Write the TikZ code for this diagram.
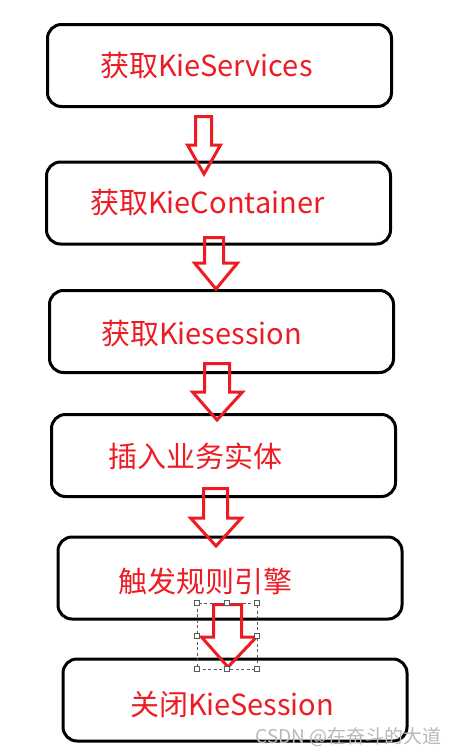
\documentclass[tikz,border=0pt]{standalone}
\usepackage{fontspec}
\setmainfont{Noto Sans CJK SC}
\definecolor{pred}{RGB}{237,28,36}
\definecolor{wm}{RGB}{185,185,185}
\definecolor{hg}{RGB}{90,90,90}
\newcommand\blockarrow[8]{%
  \draw[barrow] (#1,#3) -- (#2,#3) -- (#2,#4) -- (#6,#4) -- (#7,#8) -- (#5,#4) -- (#1,#4) -- cycle;}
\begin{document}
\begin{tikzpicture}[x=1pt,y=-1pt,
  box/.style={draw=black,line width=3pt,rounded corners=14pt,minimum width=344pt,minimum height=82pt,inner sep=0pt},
  txt/.style={anchor=west,inner sep=0pt,text=pred,font=\fontsize{29}{31}\selectfont},
  barrow/.style={draw=pred,line width=3pt,line join=miter},
  handle/.style={draw=hg,fill=white,line width=0.6pt,minimum size=4.5pt,inner sep=0pt}]
\useasboundingbox (0,0) rectangle (454,755);
\fill[white] (0,0) rectangle (454,755);
% boxes
\node[box] (b1) at (219.5,65.5) {};
\node[box] (b2) at (218.5,203) {};
\node[box] (b3) at (221.5,331.5) {};
\node[box] (b4) at (223.5,455.5) {};
\node[box] (b5) at (230,578) {};
\node[box] (b6) at (235,700) {};
% texts
\node[txt] (t1) at (100,65.5) {获取KieServices};
\node[txt] (t2) at (90,202.5) {获取KieContainer};
\node[txt] (t3) at (101,334) {获取Kiesession};
\node[txt] (t4) at (108,456) {插入业务实体};
\node[txt] (t5) at (118,581) {触发规则引擎};
\node[txt] (t6) at (130,705) {关闭KieSession};
% block arrows
\blockarrow{195.5}{211.5}{116.5}{145}{187.5}{220.5}{204}{174}
\blockarrow{204.5}{223.5}{237.5}{263}{194.5}{237.5}{216}{289}
\blockarrow{204.5}{229.5}{363.5}{392}{192.5}{242.5}{217}{420}
\blockarrow{203.5}{227.5}{488.5}{518}{190.5}{241.5}{216}{546}
\blockarrow{213.5}{241.5}{604.5}{637}{201.5}{256.5}{228}{667}
% selection frame
\draw[hg,line width=0.7pt,dash pattern=on 3pt off 2.5pt] (197,603) rectangle (257,669);
\foreach \p [count=\i] in {(197,603),(227,603),(257,603),(197,636),(257,636),(197,669),(227,669),(257,669)}
  \node[handle] (h\i) at \p {};
% watermark
\node[anchor=east,inner sep=1pt,text=wm,font=\fontsize{19}{21}\selectfont] (wmk) at (443,737) {CSDN @在奋斗的大道};
\end{tikzpicture}
\end{document}
